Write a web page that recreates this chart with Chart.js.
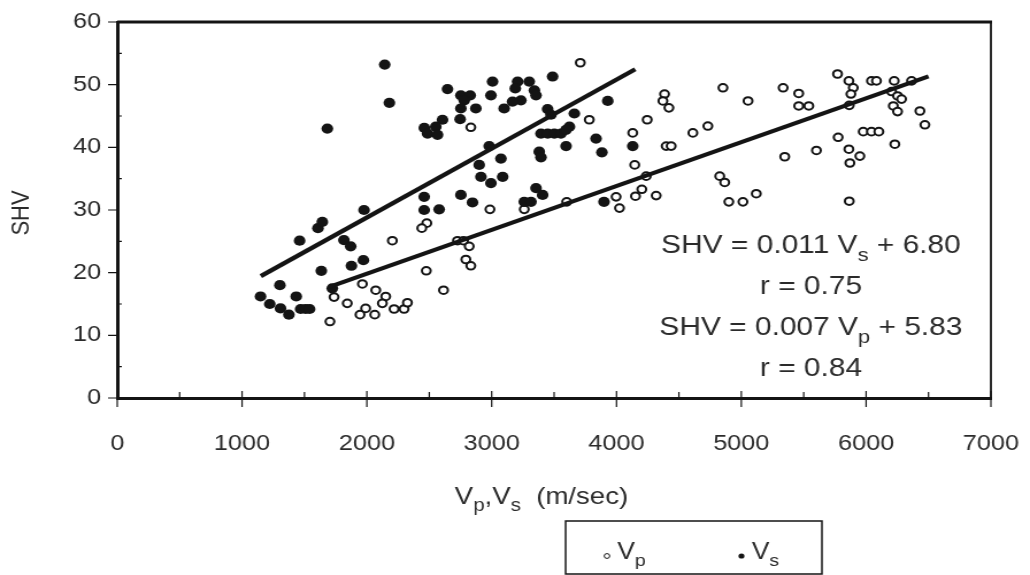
<!DOCTYPE html>
<html>
<head>
<meta charset="utf-8">
<script src="https://cdn.jsdelivr.net/npm/chart.js@4.4.1/dist/chart.umd.min.js"></script>
<style>
  html, body { margin: 0; padding: 0; background: #fff; overflow: hidden; }
  #chart { display: block; }
</style>
</head>
<body>
<!-- drawn narrower and widened by CSS, giving the wide lettering of the figure -->
<canvas id="chart" width="896" height="575" style="width:1030px;height:575px"></canvas>
<script>
// ---- data: compressional (Vp) and shear (Vs) velocity against SHV ----
const vpVelocity = [1704, 1737, 1843, 1964, 2071, 2151, 2124, 1990, 1945, 2063, 2218, 2298, 2325, 2204, 2480, 2440,
  2476, 2614, 2726, 2774, 2820, 2793, 2833, 2986, 3261, 2833, 3710, 3782, 3601, 3997, 4024, 4385, 4372, 4420, 4246,
  4130, 4853, 5054, 5335, 5460, 5460, 4612, 4732, 4398, 4438, 4146, 4238, 5348, 4827, 4867, 4900, 5013, 5120, 4318,
  4203, 4152, 5771, 5862, 5897, 5878, 5865, 6043, 6083, 6225, 6364, 6204, 6252, 6284, 6218, 6252, 6431, 6471, 5541,
  5977, 6043, 6102, 5776, 5602, 5862, 5950, 5870, 6230, 5865];
const vpSHV = [12.2, 16.1, 15.1, 18.2, 17.2, 16.2, 15.1, 14.3, 13.3, 13.3, 14.2, 14.2, 15.2, 25.1, 27.9, 27.1,
  20.3, 17.2, 25.1, 25.1, 24.2, 22.1, 21.1, 30.1, 30.1, 43.2, 53.5, 44.4, 31.3, 32.1, 30.3, 48.5, 47.4, 46.3, 44.4,
  42.3, 49.5, 47.4, 49.5, 48.6, 46.6, 42.3, 43.4, 40.2, 40.2, 37.2, 35.4, 38.5, 35.4, 34.4, 31.3, 31.3, 32.6, 32.3,
  33.3, 32.2, 51.7, 50.6, 49.5, 48.5, 46.7, 50.6, 50.6, 50.6, 50.6, 48.9, 48.2, 47.7, 46.6, 45.7, 45.8, 43.6, 46.6,
  42.5, 42.5, 42.5, 41.6, 39.5, 39.7, 38.6, 37.5, 40.5, 31.4];

const vsVelocity = [1148, 1222, 1308, 1375, 1434, 1469, 1509, 1541, 1303, 1461, 1608, 1643, 1635, 1683, 1723, 1816,
  1870, 1876, 1972, 1977, 2143, 2180, 2460, 2486, 2459, 2459, 2579, 2646, 2753, 2828, 2780, 2753, 2873, 3007, 2994,
  3208, 3301, 3342, 3355, 3189, 3234, 3167, 3100, 3488, 3448, 3475, 3662, 3930, 3623, 3395, 3449, 3502, 3555, 3596,
  3836, 3883, 3596, 3381, 3395, 3074, 2980, 2900, 2914, 3088, 2994, 2747, 2606, 2552, 2566, 2753, 2846, 3355, 3408,
  3261, 3315, 3900, 4130];
const vsSHV = [16.2, 15.0, 14.3, 13.3, 16.2, 14.2, 14.2, 14.2, 18.0, 25.1, 27.1, 28.1, 20.3, 43.0, 17.5, 25.2,
  24.2, 21.1, 22.0, 30.0, 53.2, 47.1, 43.1, 42.2, 32.1, 30.0, 30.1, 49.3, 48.3, 48.3, 47.5, 46.2, 46.2, 50.5, 48.3,
  50.5, 50.5, 49.1, 48.3, 49.4, 47.5, 47.3, 46.2, 51.3, 46.1, 45.2, 45.4, 47.4, 43.3, 42.2, 42.2, 42.2, 42.2, 42.8,
  41.4, 39.2, 40.2, 39.3, 38.4, 38.2, 40.2, 37.2, 35.3, 35.3, 34.3, 44.5, 44.4, 43.3, 42.0, 32.4, 31.2, 33.5, 32.4,
  31.3, 31.3, 31.3, 40.2];

// least-squares fits as reported in the figure, over the range of each velocity set
const fitVsSlope = 0.011, fitVsIntercept = 6.80, fitVsR = '0.75', fitVsRange = [1150, 4150];
const fitVpSlope = 0.007, fitVpIntercept = 5.83, fitVpR = '0.84', fitVpRange = [1700, 6500];

// axis ticks
const xTicks = [0, 1000, 2000, 3000, 4000, 5000, 6000, 7000];
const yTicks = [0, 10, 20, 30, 40, 50, 60];
const xMinorTicks = [500, 1500, 2500, 3500, 4500, 5500, 6500];
const yMinorTicks = [5, 15, 25, 35, 45, 55];

// ---- helpers ----
const FAMILY = '"Liberation Sans", Arial, Helvetica, sans-serif';
const INK = '#141414';
const TEXT = '#2b2b2b';

const zip = (xs, ys) => xs.map((x, i) => ({ x, y: ys[i] }));
const fitLine = (slope, intercept, range) => range.map(x => ({ x, y: slope * x + intercept }));

// text run with subscripts: parts = [{t, sub}]
function drawRich(ctx, parts, x, baseline, size, align) {
  const subSize = size * 0.74;
  let width = 0;
  for (const p of parts) {
    ctx.font = `${p.sub ? subSize : size}px ${FAMILY}`;
    width += ctx.measureText(p.t).width;
  }
  let cx = align === 'center' ? x - width / 2 : x;
  ctx.textAlign = 'left';
  ctx.textBaseline = 'alphabetic';
  for (const p of parts) {
    ctx.font = `${p.sub ? subSize : size}px ${FAMILY}`;
    ctx.fillText(p.t, cx, baseline + (p.sub ? size * 0.3 : 0));
    cx += ctx.measureText(p.t).width;
  }
}

// frame, tick marks, titles, equations and legend box
const decorations = {
  id: 'decorations',
  afterDraw(chart) {
    const { ctx, chartArea: a, scales: { x, y } } = chart;
    ctx.save();
    ctx.strokeStyle = INK;
    ctx.lineCap = 'butt';

    // top and right edges of the plot frame
    ctx.lineWidth = 3;
    ctx.beginPath(); ctx.moveTo(a.left, a.top); ctx.lineTo(a.right + 1, a.top); ctx.stroke();
    ctx.lineWidth = 1.8;
    ctx.beginPath(); ctx.moveTo(a.right, a.top - 1); ctx.lineTo(a.right, a.bottom); ctx.stroke();

    // tick marks
    ctx.lineWidth = 1.2;
    ctx.beginPath();
    for (const v of xTicks) { const px = x.getPixelForValue(v); ctx.moveTo(px, a.bottom - 7); ctx.lineTo(px, a.bottom + 9); }
    for (const v of xMinorTicks) { const px = x.getPixelForValue(v); ctx.moveTo(px, a.bottom - 6); ctx.lineTo(px, a.bottom); }
    for (const v of yTicks) { const py = y.getPixelForValue(v); ctx.moveTo(a.left - 8, py); ctx.lineTo(a.left + 2, py); }
    for (const v of yMinorTicks) { const py = y.getPixelForValue(v); ctx.moveTo(a.left, py); ctx.lineTo(a.left + 4, py); }
    ctx.stroke();

    ctx.fillStyle = TEXT;

    // y-axis title
    ctx.save();
    ctx.translate(19, (a.top + a.bottom) / 2 + 3);
    ctx.rotate(-Math.PI / 2);
    ctx.font = `22px ${FAMILY}`;
    ctx.textAlign = 'center';
    ctx.textBaseline = 'middle';
    ctx.fillText('SHV', 0, 0);
    ctx.restore();

    // x-axis title
    drawRich(ctx, [{ t: 'V' }, { t: 'p', sub: true }, { t: ',V' }, { t: 's', sub: true }, { t: '  (m/sec)' }],
      (a.left + a.right) / 2 - 11, 504, 24, 'center');

    // regression equations
    const ex = a.left + (a.right - a.left) * 0.794;
    drawRich(ctx, [{ t: `SHV = ${fitVsSlope.toFixed(3)} V` }, { t: 's', sub: true }, { t: ` + ${fitVsIntercept.toFixed(2)}` }], ex, 253, 26, 'center');
    drawRich(ctx, [{ t: `r = ${fitVsR}` }], ex, 294, 26, 'center');
    drawRich(ctx, [{ t: `SHV = ${fitVpSlope.toFixed(3)} V` }, { t: 'p', sub: true }, { t: ` + ${fitVpIntercept.toFixed(2)}` }], ex, 335, 26, 'center');
    drawRich(ctx, [{ t: `r = ${fitVpR}` }], ex, 376, 26, 'center');

    // legend box
    const lx = 492, ly = 521, lw = 223, lh = 53;
    ctx.lineWidth = 1.5;
    ctx.strokeRect(lx, ly, lw, lh);
    ctx.lineWidth = 1;
    ctx.beginPath(); ctx.arc(lx + 36, ly + 35, 2.4, 0, Math.PI * 2); ctx.stroke();
    drawRich(ctx, [{ t: 'V' }, { t: 'p', sub: true }], lx + 45, ly + 38, 23, 'left');
    ctx.fillStyle = INK;
    ctx.beginPath(); ctx.arc(lx + 153, ly + 35, 2.6, 0, Math.PI * 2); ctx.fill();
    ctx.fillStyle = TEXT;
    drawRich(ctx, [{ t: 'V' }, { t: 's', sub: true }], lx + 162, ly + 38, 23, 'left');

    ctx.restore();
  }
};

new Chart(document.getElementById('chart'), {
  type: 'scatter',
  data: {
    datasets: [
      { label: 'Vs fit', data: fitLine(fitVsSlope, fitVsIntercept, fitVsRange), showLine: true,
        borderColor: INK, borderWidth: 4.2, pointRadius: 0, order: 0 },
      { label: 'Vp fit', data: fitLine(fitVpSlope, fitVpIntercept, fitVpRange), showLine: true,
        borderColor: INK, borderWidth: 4.2, pointRadius: 0, order: 0 },
      { label: 'Vs', data: zip(vsVelocity, vsSHV), pointRadius: 5.1,
        backgroundColor: INK, borderColor: INK, borderWidth: 0, order: 1 },
      { label: 'Vp', data: zip(vpVelocity, vpSHV), pointRadius: 3.8,
        backgroundColor: '#ffffff', borderColor: INK, borderWidth: 2, order: 2 }
    ]
  },
  options: {
    responsive: false,
    animation: false,
    devicePixelRatio: 1,
    layout: { padding: { top: 22, right: 34, left: 0, bottom: 0 } },
    plugins: { legend: { display: false }, tooltip: { enabled: false } },
    scales: {
      x: {
        type: 'linear', min: 0, max: 7000,
        afterBuildTicks: s => { s.ticks = xTicks.map(value => ({ value })); },
        afterFit: s => { s.height = 177; s.paddingLeft = 0; s.paddingRight = 0; },
        grid: { display: false },
        border: { display: true, color: INK, width: 3 },
        ticks: { font: { family: FAMILY, size: 22 }, color: TEXT, padding: 25, maxRotation: 0, autoSkip: false,
                 callback: v => String(v) }
      },
      y: {
        type: 'linear', min: 0, max: 60,
        afterBuildTicks: s => { s.ticks = yTicks.map(value => ({ value })); },
        afterFit: s => { s.width = 102; s.paddingTop = 0; s.paddingBottom = 0; },
        grid: { display: false },
        border: { display: true, color: INK, width: 3 },
        ticks: { font: { family: FAMILY, size: 22 }, color: TEXT, padding: 6, callback: v => String(v) }
      }
    }
  },
  plugins: [decorations]
});
</script>
</body>
</html>
